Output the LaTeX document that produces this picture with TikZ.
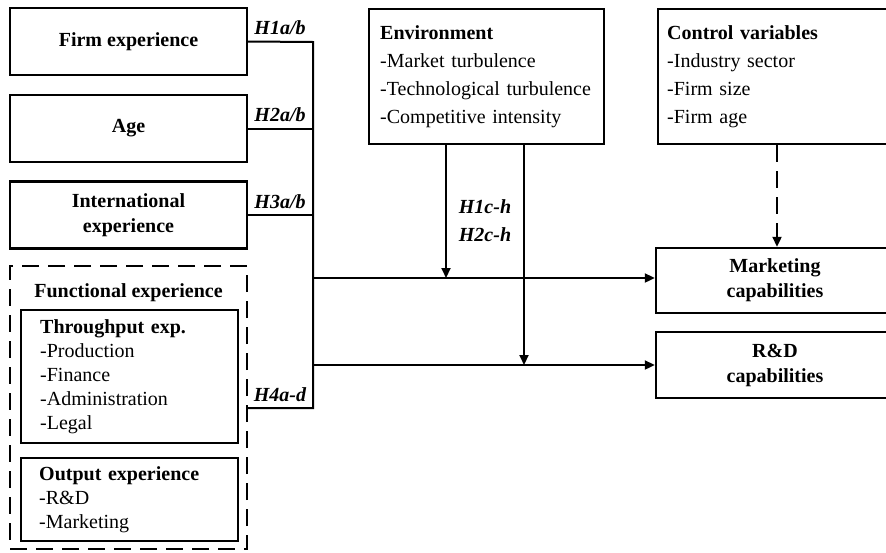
\documentclass[tikz,border=0pt]{standalone}
\usepackage{fontspec}
\setmainfont{Liberation Serif}
\usetikzlibrary{arrows.meta, positioning}

\begin{document}
\begin{tikzpicture}[
        x=0.5pt, y=-0.5pt,
        every node/.style={font=\fontsize{10}{12.5}\selectfont},
        box/.style={draw, line width=1.2pt, rectangle, align=center, minimum width=118.5pt, minimum height=33.5pt, font=\fontsize{10}{12.5}\selectfont\bfseries},
        listbox/.style={draw, line width=1.2pt, rectangle, align=left, anchor=north west},
        dashbox/.style={draw, line width=1.2pt, rectangle, dash pattern=on 8.5pt off 4.5pt},
        hyp/.style={font=\fontsize{10}{12}\selectfont\bfseries\itshape, inner sep=1pt},
        arrow/.style={-{Triangle[length=5pt,width=4.5pt]}, line width=1pt},
        link/.style={line width=1pt}]
    \useasboundingbox (0,0) rectangle (886,552);

    % Facteurs a gauche
    \node[box] (firm) at (128.5,41.5) {Firm experience};
    \node[box] (age) at (128.5,128.5) {Age};
    \node[box] (intl) at (128.5,215) {International\\experience};

    % Experience fonctionnelle
    \node[dashbox, minimum width=118.5pt, minimum height=141.5pt] (func) at (128.5,407.5) {};
    \node[font=\fontsize{10}{12}\selectfont\bfseries] (funclabel) at (128.5,293) {Functional experience};
    \node[listbox, inner xsep=9.5pt, text width=89.5pt, minimum height=66.5pt,
          font=\fontsize{10}{12}\selectfont] (thru) at (20,309)
        {\textbf{Throughput exp.}\\-Production\\-Finance\\-Administration\\-Legal};
    \node[listbox, inner xsep=9pt, text width=90.5pt, minimum height=41.5pt,
          font=\fontsize{10}{12}\selectfont] (outp) at (20,457)
        {\textbf{Output experience}\\-R\&D\\-Marketing};

    % Moderateurs et controles
    \node[listbox, inner xsep=5.5pt, text width=106.5pt, minimum height=67.5pt,
          font=\fontsize{10}{14}\selectfont] (env) at (368,8)
        {\textbf{Environment}\\-Market turbulence\\-Technological turbulence\\-Competitive intensity};
    \node[listbox, inner xsep=4.5pt, text width=109pt, minimum height=67.5pt,
          font=\fontsize{10}{14}\selectfont] (ctrl) at (657,8)
        {\textbf{Control variables}\\-Industry sector\\-Firm size\\-Firm age};

    % Resultats
    \node[box, minimum width=119pt, minimum height=32.5pt] (mkt) at (775,280.5) {Marketing\\capabilities};
    \node[box, minimum width=119pt, minimum height=33pt] (rd) at (775,365) {R\&D\\capabilities};

    % Tronc commun
    \coordinate (ja) at (313,42);
    \coordinate (jd) at (313,408);
    \coordinate (jm) at (313,278);
    \coordinate (jr) at (313,365);
    \coordinate (em) at (446,0);
    \coordinate (er) at (524,0);
    \coordinate (cc) at (777,0);

    \draw[link] (firm.east) -- (ja) -- (jd) -- (func.east |- jd);
    \draw[link] (age.east) -- (age.east -| ja);
    \draw[link] (intl.east) -- (intl.east -| ja);
    \draw[arrow] (jm) -- (jm -| mkt.west);
    \draw[arrow] (jr) -- (jr -| rd.west);
    \draw[arrow] (env.south -| em) -- (em |- jm);
    \draw[arrow] (env.south -| er) -- (er |- jr);
    \draw[arrow, dash pattern=on 8.5pt off 4.5pt] (ctrl.south -| cc) -- (cc |- mkt.north);

    % Hypotheses
    \node[hyp] (h1) at (280,28) {H1a/b};
    \node[hyp] (h2) at (280,115) {H2a/b};
    \node[hyp] (h3) at (280,202) {H3a/b};
    \node[hyp] (h4) at (280,395) {H4a-d};
    \node[hyp] (h1c) at (485,207) {H1c-h};
    \node[hyp] (h2c) at (485,235) {H2c-h};
\end{tikzpicture}
\end{document}
